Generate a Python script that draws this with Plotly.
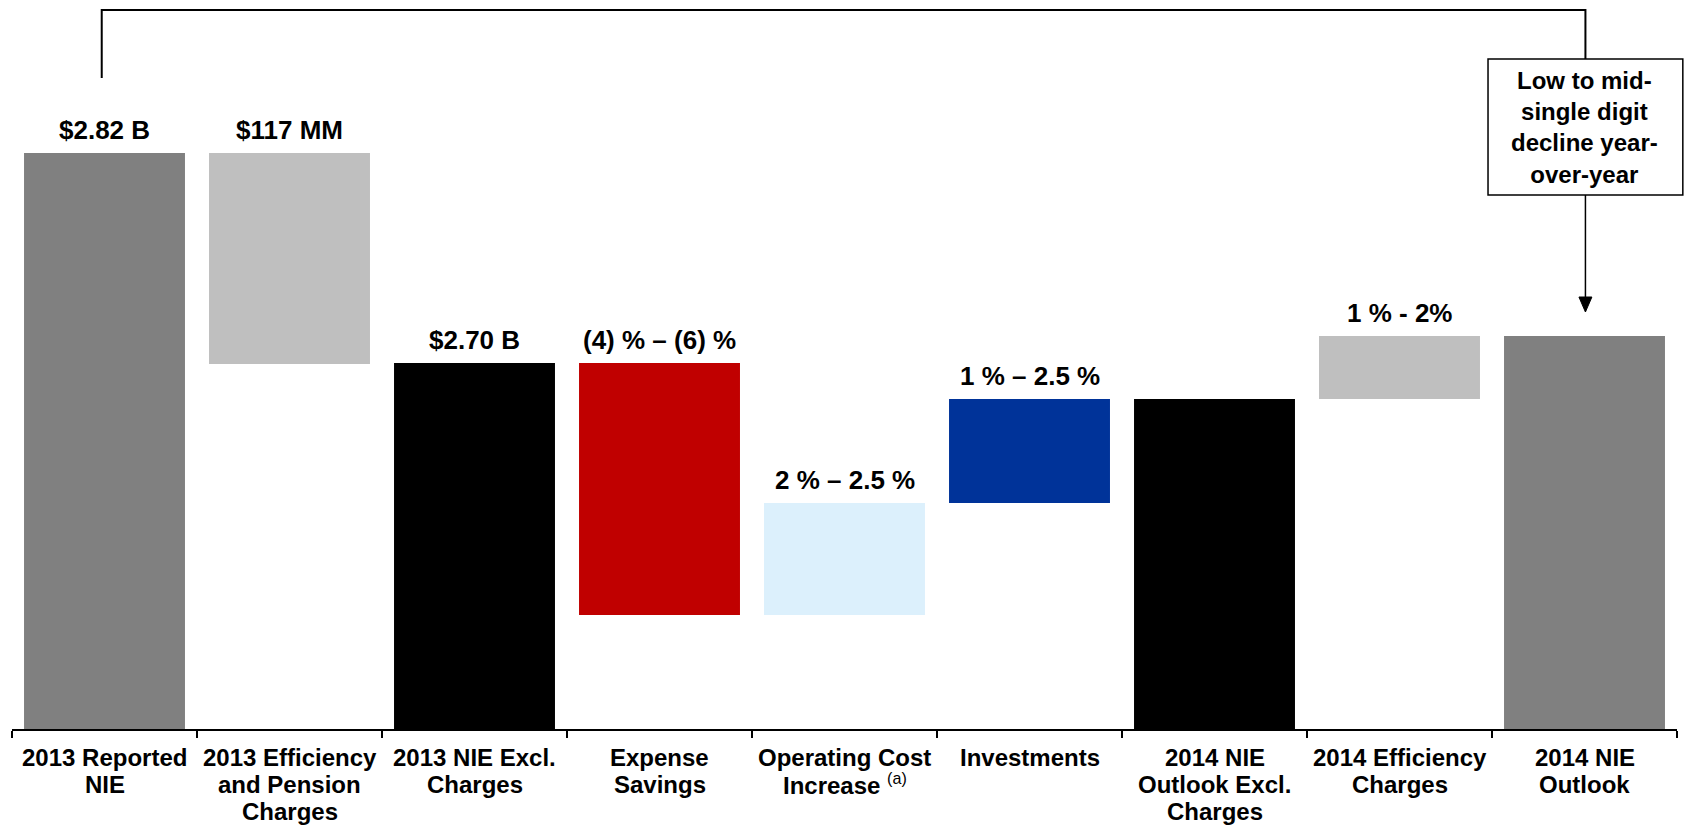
import plotly.graph_objects as go

# ---- data (schematic heights) ----
categories = [
    "2013 Reported<br>NIE",
    "2013 Efficiency<br>and Pension<br>Charges",
    "2013 NIE Excl.<br>Charges",
    "Expense<br>Savings",
    "Operating Cost<br>Increase <span style='font-weight:normal;font-size:23px'><sup>(a)</sup></span>",
    "Investments",
    "2014 NIE<br>Outlook Excl.<br>Charges",
    "2014 Efficiency<br>Charges",
    "2014 NIE<br>Outlook",
]
bar_start = [0, 365, 0, 114, 114, 226, 0, 330, 0]
bar_end = [576, 576, 366, 366, 226, 330, 330, 393, 393]
value_labels = ["$2.82 B", "$117 MM", "$2.70 B", "(4) % \u2013 (6) %",
                "2 % \u2013 2.5 %", "1 % \u2013 2.5 %", "", "1 % - 2%", ""]
bar_colors = ["#808080", "#BFBFBF", "#000000", "#C00000", "#DCF0FC",
              "#003399", "#000000", "#BFBFBF", "#808080"]
callout_text = "Low to mid-<br>single digit<br>decline year-<br>over-year"

FONT = "Liberation Sans, Arial, sans-serif"

heights = [e - s for s, e in zip(bar_start, bar_end)]
xs = list(range(len(categories)))

fig = go.Figure()
fig.add_trace(go.Bar(
    x=xs, y=heights, base=bar_start,
    marker=dict(color=bar_colors, line=dict(width=0)),
    hoverinfo="skip",
))

annotations = []
for x, top, lab in zip(xs, bar_end, value_labels):
    if lab:
        annotations.append(dict(
            x=x, y=top, xref="x", yref="y", text=f"<b>{lab}</b>",
            showarrow=False, yanchor="bottom", yshift=6,
            font=dict(family=FONT, size=26, color="black"),
        ))

# category labels, one text per line so the line spacing can be tight
for x, cat in zip(xs, categories):
    for n, line in enumerate(cat.split("<br>")):
        annotations.append(dict(
            x=x, y=0, xref="x", yref="y", text=f"<b>{line}</b>",
            showarrow=False, xanchor="center", yanchor="middle",
            yshift=-(28 + 27 * n),
            font=dict(family=FONT, size=24, color="black"),
        ))

# callout box text
annotations.append(dict(
    x=8, y=602, xref="x", yref="y", text=f"<b>{callout_text}</b>",
    showarrow=False, xanchor="center", yanchor="middle",
    font=dict(family=FONT, size=24, color="black"),
))

shapes = [
    # bracket from first bar to last bar
    dict(type="path", xref="x", yref="y",
         path="M -0.015,651 L -0.015,719 L 8.005,719 L 8.005,670",
         line=dict(color="black", width=2)),
    # callout box
    dict(type="rect", xref="paper", yref="y", x0=0.8865, x1=1.0035, y0=534, y1=670,
         line=dict(color="black", width=1.5), fillcolor="white", layer="above"),
    # arrow stem
    dict(type="line", xref="x", yref="y", x0=8.005, x1=8.005, y0=534, y1=430,
         line=dict(color="black", width=1.5)),
    # arrow head
    dict(type="path", xref="x", yref="y",
         path="M 7.97,432 L 8.04,432 L 8.005,417 Z",
         fillcolor="black", line=dict(color="black", width=1)),
]

fig.update_layout(
    width=1684, height=826,
    margin=dict(l=12, r=7, t=0, b=97),
    plot_bgcolor="white", paper_bgcolor="white",
    bargap=0.13, showlegend=False,
    annotations=annotations, shapes=shapes,
    xaxis=dict(
        type="linear", range=[-0.5, 8.5], automargin=False,
        tickmode="array", tickvals=xs, showticklabels=False,
        showline=True, linecolor="black", linewidth=2,
        ticks="", showgrid=False, zeroline=False,
    ),
    yaxis=dict(range=[0, 729], visible=False, showgrid=False, zeroline=False,
               automargin=False),
)

# tick marks at category boundaries (drawn as minor ticks)
fig.update_xaxes(minor=dict(tickmode="array", tickvals=[i - 0.5 for i in range(10)],
                            ticks="outside", ticklen=7, tickwidth=2, tickcolor="black"))

fig.write_html("out.html", config={"displayModeBar": False},
               post_script="document.body.style.margin='0';")
